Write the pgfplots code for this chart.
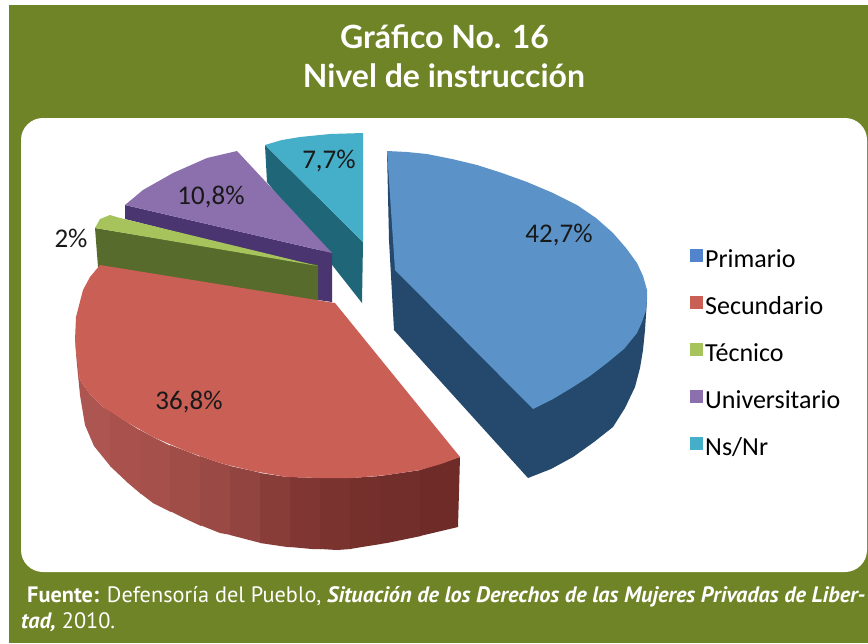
\documentclass[border=0pt]{standalone}
\usepackage{fontspec}
\usepackage{pgfplots}
\pgfplotsset{compat=1.18}
\setmainfont{Carlito}
\newfontfamily\titlefont{Lato}
\newfontfamily\footfont{PT Sans}
\definecolor{olive}{HTML}{6F8427}
\definecolor{btop}{HTML}{5B93C8}
\definecolor{bside}{HTML}{24496C}
\definecolor{rtop}{HTML}{C95F55}
\definecolor{gtop}{HTML}{A6C35C}
\definecolor{gside}{HTML}{566B2C}
\definecolor{ptop}{HTML}{8C70AE}
\definecolor{pside}{HTML}{4A3570}
\definecolor{ctop}{HTML}{45AEC9}
\definecolor{cside}{HTML}{1F6778}
\pgfplotsset{poly/.style={draw=none,forget plot,mark=none}}
\begin{document}
\begin{tikzpicture}
\begin{axis}[
  scale only axis, width=868pt, height=643pt,
  xmin=0, xmax=868, ymin=0, ymax=643, y dir=reverse,
  axis lines=none, clip=true,
  legend style={at={(axis cs:690,247.5)},anchor=north west,draw=none,fill=none,
    font=\fontsize{26}{27}\selectfont,row sep=23.6pt,inner sep=0pt,
    /tikz/every even column/.style={column sep=6pt}},
  legend cell align=left,
  legend image code/.code={\fill[#1,draw=none] (0pt,-2.5pt) rectangle (13pt,10.5pt);},
]
% page and panel
\addplot[poly,fill=white] coordinates {(0,0)(868,0)(868,643)(0,643)} --cycle;
\addplot[poly,fill=olive] coordinates {(9,5)(868,5)(868,643)(9,643)} --cycle;
\addplot[poly,fill=white,rounded corners=22pt] coordinates {(21,118)(867,118)(867,572)(21,572)} --cycle;
% cyan
\addplot[poly,fill=cside] coordinates {(265,145)(267,182)(362,303)(363,242)} --cycle;
\addplot[poly,fill=ctop] coordinates {(265,145)(282,140)(300,137)(330,134)(363,133)(363,242)} --cycle;
% purple
\addplot[poly,fill=pside] coordinates {(125,205)(125,219)(318,268)(318,300)(332,302)(332,253)} --cycle;
\addplot[poly,fill=ptop] coordinates {(125,205)(143,190)(173,173)(207,158)(237,151)(332,253)} --cycle;
% green
\addplot[poly,fill=gside] coordinates {(95,228)(98,267)(318,302)(318,265)} --cycle;
\addplot[poly,fill=gtop] coordinates {(95,228)(100,219)(110,215)(120,218)(318,266)} --cycle;
% red side strips
\addplot[poly,fill={rgb,255:red,173;green,85;blue,80}] coordinates {(75,340)(77,365)(80,395)(85,425)(94,446)(111,467)(111,411)(103,407)(90,394)(80,380)} --cycle;
\addplot[poly,fill={rgb,255:red,169;green,82;blue,77}] coordinates {(110,411)(110,466)(128,483)(141,494)(141,431)(127,422)} --cycle;
\addplot[poly,fill={rgb,255:red,165;green,80;blue,75}] coordinates {(140,430)(140,493)(153,503)(171,512)(171,446)(153,437)} --cycle;
\addplot[poly,fill={rgb,255:red,160;green,77;blue,72}] coordinates {(170,445)(170,511)(186,519)(201,526)(201,457)(186,451)} --cycle;
\addplot[poly,fill={rgb,255:red,154;green,73;blue,68}] coordinates {(200,456)(200,525)(220,533)(231,535)(231,466)(220,463)} --cycle;
\addplot[poly,fill={rgb,255:red,146;green,68;blue,64}] coordinates {(230,466)(230,535)(253,541)(261,543)(261,473)(253,471)} --cycle;
\addplot[poly,fill={rgb,255:red,136;green,61;blue,57}] coordinates {(260,473)(260,543)(287,547)(291,547)(291,477)(287,477)} --cycle;
\addplot[poly,fill={rgb,255:red,128;green,55;blue,51}] coordinates {(290,477)(290,547)(312,549)(321,549)(321,478)} --cycle;
\addplot[poly,fill={rgb,255:red,122;green,51;blue,47}] coordinates {(320,478)(320,549)(337,550)(351,549)(351,478)} --cycle;
\addplot[poly,fill={rgb,255:red,118;green,48;blue,44}] coordinates {(350,478)(350,549)(362,547)(381,544)(381,476)} --cycle;
\addplot[poly,fill={rgb,255:red,114;green,46;blue,42}] coordinates {(380,476)(380,544)(387,543)(421,536)(421,470)} --cycle;
\addplot[poly,fill={rgb,255:red,110;green,43;blue,39}] coordinates {(420,470)(420,536)(458,527)(460,457)} --cycle;
% red top
\addplot[poly,fill=rtop] coordinates {(100,265)(335,303)(460,457)(441,464)(420,470)(387,475)(353,478)(320,478)(287,477)(253,471)(220,463)(186,451)(153,437)(127,422)(103,407)(90,394)(80,380)(77,360)(75,340)(76,317)(83,290)(90,277)} --cycle;
% blue
\addplot[poly,fill=bside] coordinates {(387,151)(389,240)(394,330)(528,478)(551,469)(573,457)(594,442)(613,427)(625,408)(635,387)(640,368)(643,350)(645,330)(647,300)} --cycle;
\addplot[poly,fill=btop] coordinates {(387,151)(407,152)(427,154)(452,159)(477,165)(502,173)(527,182)(553,193)(577,205)(596,218)(613,233)(626,248)(637,263)(643,276)(647,290)(647,300)(646,310)(642,322)(637,333)(624,349)(607,363)(590,376)(573,387)(553,399)(533,409)(395,270)} --cycle;
% labels
\node[font=\fontsize{27}{29}\selectfont,text=black!90] at (axis cs:559,235) {42,7\%};
\node[font=\fontsize{27}{29}\selectfont,text=black!90] at (axis cs:189,402) {36,8\%};
\node[font=\fontsize{27}{29}\selectfont,text=black!90] at (axis cs:71,238) {2\%};
\node[font=\fontsize{27}{29}\selectfont,text=black!90] at (axis cs:211,197) {10,8\%};
\node[font=\fontsize{27}{29}\selectfont,text=black!90] at (axis cs:329,161) {7,7\%};
% titles
\node[font=\titlefont\bfseries\fontsize{32}{34}\selectfont,text=white] at (axis cs:444.5,37) {Gráf{}ico No. 16};
\node[font=\titlefont\bfseries\fontsize{32}{34}\selectfont,text=white] at (axis cs:444,76) {Nivel de instrucción};
% footer
\node[anchor=base west,text=white,font=\footfont\fontsize{22.3}{24}\selectfont,inner sep=0pt] at (axis cs:27,602) {\textbf{Fuente:} Defensoría del Pueblo, \textbf{\itshape Situación de los Derechos de las Mujeres Privadas de Liber-}};
\node[anchor=base west,text=white,font=\footfont\fontsize{22.3}{24}\selectfont,inner sep=0pt] at (axis cs:21,628) {\textbf{\itshape tad,} 2010.};
% legend
\addlegendimage{fill=btop!90!blue}\addlegendentry{Primario}
\addlegendimage{fill=rtop}\addlegendentry{Secundario}
\addlegendimage{fill=gtop}\addlegendentry{Técnico}
\addlegendimage{fill=ptop}\addlegendentry{Universitario}
\addlegendimage{fill=ctop}\addlegendentry{Ns/Nr}
\end{axis}
\end{tikzpicture}
\end{document}
